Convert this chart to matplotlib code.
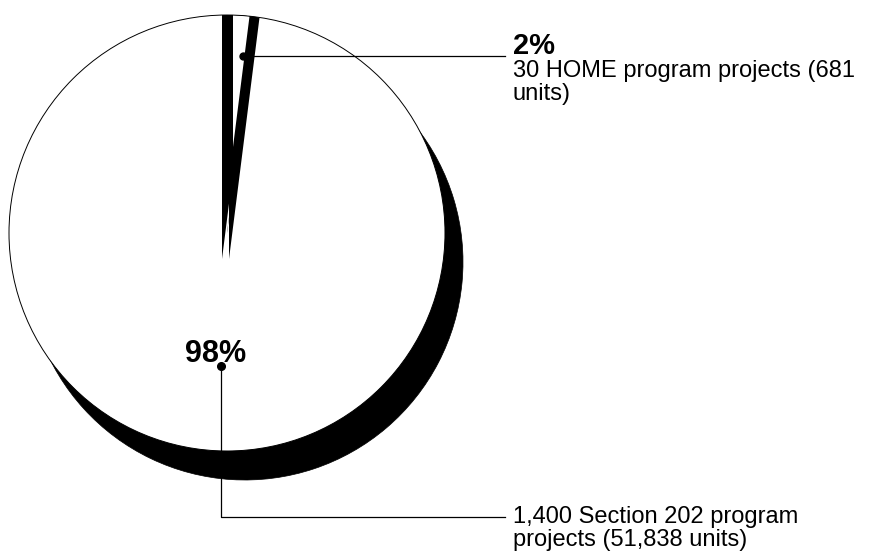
import matplotlib.pyplot as plt
from matplotlib.patches import Wedge, Circle

# chart data
programs = ['Section 202', 'HOME']
shares = [98, 2]
pct_labels = ['98%', '2%']
details = ['1,400 Section 202 program\nprojects (51,838 units)',
           '30 HOME program projects (681\nunits)']

W, H = 876, 552
plt.rcParams['font.family'] = ['Liberation Sans', 'DejaVu Sans']

fig = plt.figure(figsize=(W / 100, H / 100), dpi=100)
ax = fig.add_axes([0, 0, 1, 1])
ax.set_xlim(0, W)
ax.set_ylim(0, H)
ax.axis('off')


def Y(y):
    # pixel row (top down) -> axis y
    return H - y


# pie layout (pixels)
cx, cy, r = 227, Y(233), 218
sdx, sdy = 18, -29          # drop shadow offset

# slice spans, clockwise from 12 o'clock: HOME first, Section 202 the rest
spans = [360 * s / sum(shares) for s in shares]
home_t1, home_t2 = 90 - spans[1], 90
s202_t1, s202_t2 = 90, 90 + spans[0]

# shadow
ax.add_patch(Wedge((cx + sdx, cy + sdy), r, s202_t1, s202_t2, fc='black', ec='black', lw=0.5))
ax.add_patch(Wedge((cx + sdx, cy + sdy), r, home_t1, home_t2, fc='black', ec='black', lw=0.5))

# white slices
ax.add_patch(Wedge((cx, cy), r, s202_t1, s202_t2, fc='white', ec='none'))
ax.add_patch(Wedge((cx, cy), r, home_t1, home_t2, fc='white', ec='none'))

# gap around the lifted HOME slice shows the shadow
clip = Circle((cx, cy), r, transform=ax.transData)
gap_apex = (cx - 5, cy - 26)
for shift in (0, 7):
    g = Wedge((gap_apex[0] + shift, gap_apex[1]), r * 1.3, home_t1, home_t2,
              fc='black', ec='none')
    ax.add_patch(g)
    g.set_clip_path(clip)
lifted = Wedge((cx + 6, cy + 86), r * 1.3, home_t1, home_t2, fc='white', ec='none')
ax.add_patch(lifted)
lifted.set_clip_path(clip)

ax.add_patch(Circle((cx, cy), r, fill=False, ec='black', lw=0.7, zorder=3))

# leaders and labels
text_x = 513
line_end = 505

# HOME
ax.plot([243, line_end], [Y(56), Y(56)], color='black', lw=0.9, zorder=4)
ax.plot(243, Y(56), 'o', color='black', ms=5, zorder=5)
ax.text(text_x, Y(54), pct_labels[1], fontsize=21, fontweight='bold',
        ha='left', va='baseline')
ax.text(text_x, Y(60), details[1], fontsize=17, ha='left', va='top',
        linespacing=1.05)

# Section 202
ax.text(216, Y(362), pct_labels[0], fontsize=22, fontweight='bold',
        ha='center', va='baseline', zorder=5)
ax.plot([221, 221, line_end], [Y(366), Y(517), Y(517)], color='black', lw=0.9, zorder=4)
ax.plot(221, Y(366), 'o', color='black', ms=5.5, zorder=5)
ax.text(text_x, Y(506), details[0], fontsize=17, ha='left', va='top',
        linespacing=1.05)

fig.savefig('out.png', dpi=100)
